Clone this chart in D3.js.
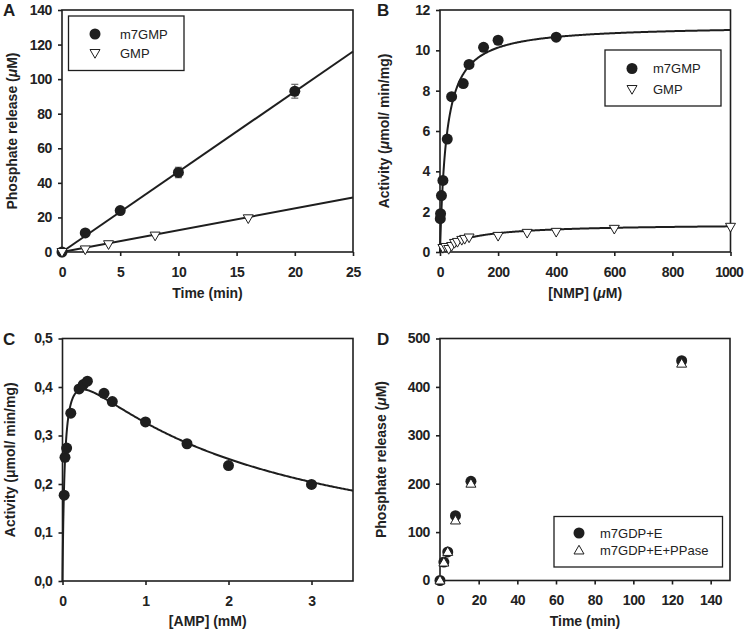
<!DOCTYPE html>
<html><head><meta charset="utf-8">
<script src="https://cdn.jsdelivr.net/npm/d3@7"></script>
<style>
body{margin:0;background:#fff;}
svg{display:block;font-family:"Liberation Sans",Arial,sans-serif;}
.tick text{font-weight:bold;font-size:14px;fill:#222;letter-spacing:-0.4px;}
</style></head><body>
<svg id="c" width="745" height="634"></svg>
<script>
// ---- Panel A data ----
const aTimeM7 = [0, 2, 5, 10, 20];
const aValM7 = [0, 11, 24, 46, 93];
const aErrM7 = [0, 0, 0, 3, 4];
const aTimeG = [0, 2, 4, 8, 16];
const aValG = [0, 1.5, 4.5, 9.5, 19.5];
const aSlopeM7 = 4.64;   // fitted line slope
const aSlopeG = 1.26;
const aXTicks = [0, 5, 10, 15, 20, 25];
const aYTicks = [0, 20, 40, 60, 80, 100, 120, 140];
// ---- Panel B data ----
const bConcM7 = [1, 2, 5, 10, 25, 40, 80, 100, 150, 200, 400];
const bValM7 = [1.65, 1.9, 2.8, 3.55, 5.6, 7.7, 8.35, 9.3, 10.15, 10.5, 10.65];
const bConcG = [10, 20, 30, 40, 50, 60, 75, 85, 100, 200, 300, 400, 600, 1000];
const bValG = [0.2, 0.25, 0.15, 0.3, 0.45, 0.5, 0.6, 0.65, 0.72, 0.8, 0.95, 1.0, 1.15, 1.25];
const bFitM7 = {vmax: 11.25, km: 22};
const bFitG = {vmax: 1.4, km: 100};
const bXTicks = [0, 200, 400, 600, 800, 1000];
const bYTicks = [0, 2, 4, 6, 8, 10, 12];
// ---- Panel C data ----
const cConc = [0.02, 0.03, 0.05, 0.1, 0.2, 0.25, 0.3, 0.5, 0.6, 1.0, 1.5, 2.0, 3.0];
const cVal = [0.177, 0.255, 0.274, 0.346, 0.396, 0.405, 0.412, 0.387, 0.37, 0.328, 0.283, 0.238, 0.199];
const cFit = {vmax: 0.484, km: 0.028, ki: 2.2};
const cXTicks = [0, 1, 2, 3];
const cYTicks = [0, 0.1, 0.2, 0.3, 0.4, 0.5];
// ---- Panel D data ----
const dTime = [0, 2, 4, 8, 16, 125];
const dValE = [0, 38, 59, 134, 205, 454];
const dValPP = [0, 37, 59, 124, 200, 448];
const dXTicks = [0, 20, 40, 60, 80, 100, 120, 140];
const dYTicks = [0, 100, 200, 300, 400, 500];

const svg = d3.select("#c");
const ink = "#1e1e1e";

function panel(o) {
  const g = svg.append("g");
  const x = d3.scaleLinear().domain(o.xd).range([o.l, o.r]);
  const y = d3.scaleLinear().domain(o.yd).range([o.b, o.t]);
  const ax = g.append("g").attr("transform", `translate(0,${o.b})`)
    .call(d3.axisBottom(x).tickValues(o.xt).tickSize(4).tickPadding(11).tickFormat(o.xf || d3.format("d")));
  const ay = g.append("g").attr("transform", `translate(${o.l},0)`)
    .call(d3.axisLeft(y).tickValues(o.yt).tickSize(4).tickPadding(6).tickFormat(o.yf || d3.format("d")));
  [ax, ay].forEach(a => {
    a.select(".domain").remove();
    a.selectAll(".tick line").attr("stroke", ink).attr("stroke-width", 1.6);
  });
  g.append("rect").attr("x", o.l).attr("y", o.t).attr("width", o.r - o.l).attr("height", o.b - o.t)
    .attr("fill", "none").attr("stroke", ink).attr("stroke-width", 1.6);
  // panel letter
  g.append("text").attr("x", o.lx).attr("y", o.ly).text(o.letter)
    .attr("font-weight", "bold").attr("font-size", 17).attr("fill", ink);
  // x title
  const xt = g.append("text").attr("x", (o.l + o.r) / 2).attr("y", o.xty)
    .attr("text-anchor", "middle").attr("font-weight", "bold").attr("font-size", 14).attr("fill", "#222");
  o.xtitle.forEach(p => xt.append("tspan").text(p[0]).attr("font-style", p[1] ? "italic" : null));
  const yt = g.append("text").attr("transform", `translate(${o.ytx},${(o.t + o.b) / 2}) rotate(-90)`)
    .attr("text-anchor", "middle").attr("font-weight", "bold").attr("font-size", 14).attr("fill", "#222");
  o.ytitle.forEach(p => yt.append("tspan").text(p[0]).attr("font-style", p[1] ? "italic" : null));
  return {g, x, y, ax, ay};
}

function drawCircles(p, xs, ys, r) {
  p.g.append("g").selectAll("circle").data(xs).join("circle")
    .attr("cx", (d) => p.x(d)).attr("cy", (d, i) => p.y(ys[i])).attr("r", r || 5.5)
    .attr("fill", ink);
}
function triPath(up, s) {
  const h = s * 0.87;
  return up ? `M0,${-h * 0.6}L${s / 2},${h * 0.4}L${-s / 2},${h * 0.4}Z`
            : `M0,${h * 0.6}L${s / 2},${-h * 0.4}L${-s / 2},${-h * 0.4}Z`;
}
function drawTris(p, xs, ys, up, s) {
  p.g.append("g").selectAll("path").data(xs).join("path")
    .attr("d", triPath(up, s || 10))
    .attr("transform", (d, i) => `translate(${p.x(d)},${p.y(ys[i])})`)
    .attr("fill", "#fff").attr("stroke", ink).attr("stroke-width", 1);
}
function drawCurve(p, f, xmax, n) {
  const pts = [];
  for (let i = 0; i <= n; i++) {
    const t = i / n;
    const xv = xmax * t * t;
    pts.push([xv, f(xv)]);
  }
  p.g.append("path").datum(pts)
    .attr("d", d3.line().x(d => p.x(d[0])).y(d => p.y(d[1])))
    .attr("fill", "none").attr("stroke", ink).attr("stroke-width", 2);
}
function legend(p, bx, by, bw, bh, items) {
  p.g.append("rect").attr("x", bx).attr("y", by).attr("width", bw).attr("height", bh)
    .attr("fill", "#fff").attr("stroke", ink).attr("stroke-width", 1.3);
  items.forEach(it => {
    if (it.type === "circle") p.g.append("circle").attr("cx", it.mx).attr("cy", it.my).attr("r", 5.5).attr("fill", ink);
    else p.g.append("path").attr("d", triPath(it.type === "up", 10)).attr("transform", `translate(${it.mx},${it.my})`)
      .attr("fill", "#fff").attr("stroke", ink).attr("stroke-width", 1);
    p.g.append("text").attr("x", it.tx).attr("y", it.my + 4.5).text(it.label)
      .attr("font-size", 13).attr("fill", "#222");
  });
}

// ---- Panel A ----
const pA = panel({l: 62, r: 353, t: 10, b: 252, xd: [0, 25], yd: [0, 140], xt: aXTicks, yt: aYTicks,
  letter: "A", lx: 3, ly: 16, xty: 298, ytx: 17,
  xtitle: [["Time (min)"]], ytitle: [["Phosphate release ("], ["μ", 1], ["M)"]]});
pA.g.append("line").attr("x1", pA.x(0)).attr("y1", pA.y(0)).attr("x2", pA.x(25)).attr("y2", pA.y(aSlopeM7 * 25))
  .attr("stroke", ink).attr("stroke-width", 2);
pA.g.append("line").attr("x1", pA.x(0)).attr("y1", pA.y(0)).attr("x2", pA.x(25)).attr("y2", pA.y(aSlopeG * 25))
  .attr("stroke", ink).attr("stroke-width", 2);
aTimeM7.forEach((t, i) => {
  if (!aErrM7[i]) return;
  const e = pA.g.append("g").attr("stroke", "#666").attr("stroke-width", 1.2);
  e.append("line").attr("x1", pA.x(t)).attr("x2", pA.x(t)).attr("y1", pA.y(aValM7[i] - aErrM7[i])).attr("y2", pA.y(aValM7[i] + aErrM7[i]));
  [aValM7[i] - aErrM7[i], aValM7[i] + aErrM7[i]].forEach(v =>
    e.append("line").attr("x1", pA.x(t) - 3.5).attr("x2", pA.x(t) + 3.5).attr("y1", pA.y(v)).attr("y2", pA.y(v)));
});
drawCircles(pA, aTimeM7, aValM7);
drawTris(pA, aTimeG, aValG, false);
legend(pA, 68.5, 16, 115.5, 54.5, [
  {type: "circle", mx: 95, my: 34, tx: 120, label: "m7GMP"},
  {type: "down", mx: 95, my: 53, tx: 120, label: "GMP"}]);

// ---- Panel B ----
const pB = panel({l: 440, r: 730.5, t: 10, b: 252, xd: [0, 1000], yd: [0, 12], xt: bXTicks, yt: bYTicks,
  letter: "B", lx: 377, ly: 16, xty: 298, ytx: 389,
  xtitle: [["[NMP] ("], ["μ", 1], ["M)"]], ytitle: [["Activity ("], ["μ", 1], ["mol/ min/mg)"]]});
// keep the last label ("1000") inside the page edge, as in the reference
pB.ax.selectAll(".tick text").filter(d => d === 1000).attr("dx", -2).style("letter-spacing", "-0.9px");
drawCurve(pB, s => bFitM7.vmax * s / (bFitM7.km + s), 1000, 400);
drawCurve(pB, s => bFitG.vmax * s / (bFitG.km + s), 1000, 400);
drawCircles(pB, bConcM7, bValM7);
drawTris(pB, bConcG, bValG, false);
legend(pB, 605, 50, 116, 56, [
  {type: "circle", mx: 632, my: 68.5, tx: 653, label: "m7GMP"},
  {type: "down", mx: 632, my: 89, tx: 653, label: "GMP"}]);

// ---- Panel C ----
const commaFmt = d => d3.format(".1f")(d).replace(".", ",");
const pC = panel({l: 62.5, r: 353, t: 338.5, b: 581, xd: [0, 3.5], yd: [0, 0.5], xt: cXTicks, yt: cYTicks,
  yf: commaFmt, letter: "C", lx: 3, ly: 345, xty: 626, ytx: 15,
  xtitle: [["[AMP] (mM)"]], ytitle: [["Activity (μmol/ min/mg)"]]});
drawCurve(pC, s => cFit.vmax * s / (cFit.km + s + s * s / cFit.ki), 3.5, 600);
drawCircles(pC, cConc, cVal);

// ---- Panel D ----
const pD = panel({l: 440, r: 730, t: 338.5, b: 580.5, xd: [0, 150], yd: [0, 500], xt: dXTicks, yt: dYTicks,
  letter: "D", lx: 377, ly: 345, xty: 626, ytx: 386,
  xtitle: [["Time (min)"]], ytitle: [["Phosphate release ("], ["μ", 1], ["M)"]]});
drawCircles(pD, dTime, dValE);
drawTris(pD, dTime, dValPP, true);
legend(pD, 554, 516.5, 168.5, 50.5, [
  {type: "circle", mx: 579, my: 533, tx: 600, label: "m7GDP+E"},
  {type: "up", mx: 579, my: 550.5, tx: 600, label: "m7GDP+E+PPase"}]);
</script></body></html>
